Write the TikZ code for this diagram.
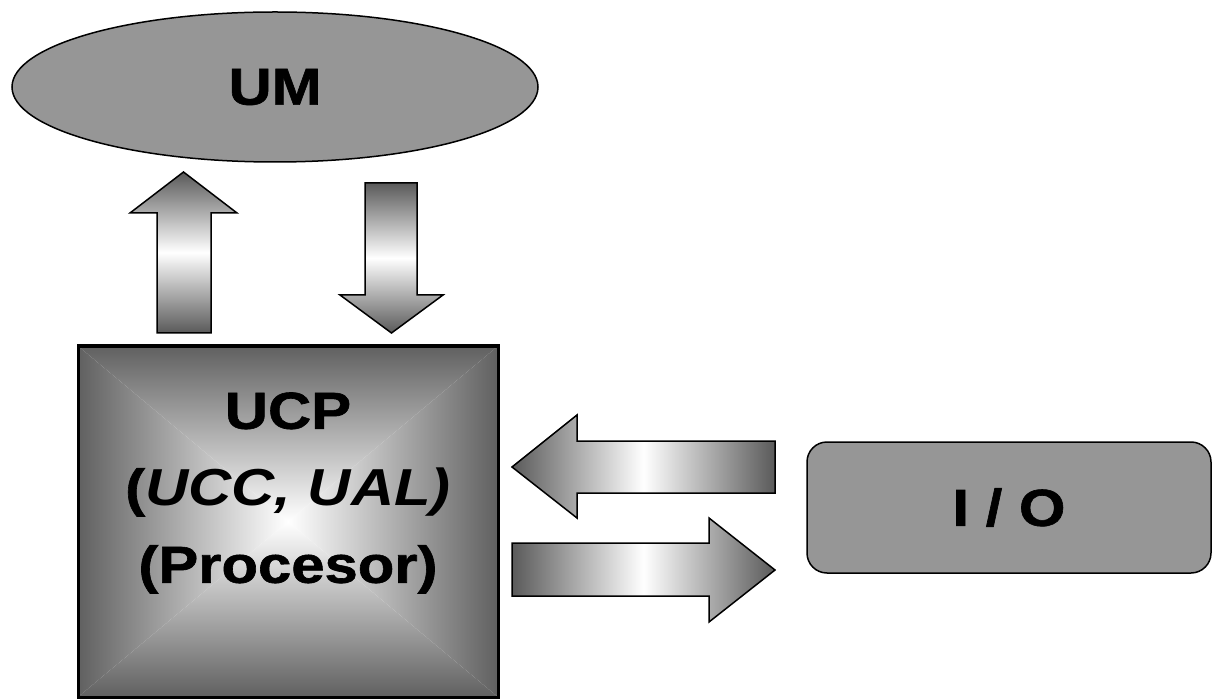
\documentclass[tikz,border=0pt]{standalone}
\usepackage{fontspec}
\newfontfamily\lab{Liberation Sans}[FakeStretch=1.15, BoldFeatures={FakeBold=1.2}]
\usetikzlibrary{shapes.geometric}
\definecolor{umgray}{HTML}{969696}
\definecolor{arrdark}{HTML}{5A5A5A}
\definecolor{boxdark}{HTML}{606060}
\definecolor{boxmid}{HTML}{CDCDCD}
\tikzset{
  every node/.style={font=\lab\bfseries\fontsize{52}{77}\selectfont},
  unitbox/.style={draw=black, line width=1.5, fill=umgray, inner sep=0},
  harrow/.style={draw=black, line width=1.5, left color=arrdark, right color=arrdark, middle color=white},
  varrow/.style={draw=black, line width=1.5, top color=arrdark, bottom color=arrdark, middle color=white},
}
\begin{document}
\begin{tikzpicture}[x=1pt, y=-1pt]
\useasboundingbox (0,0) rectangle (1212,700);

% memory unit
\node[unitbox, ellipse, minimum width=526, minimum height=150] (um) at (275,87) {UM};

% processor, shaded as a pyramid from the rim to the middle
\node[draw=black, line width=3, minimum width=420, minimum height=351, inner sep=0,
  path picture={
    \coordinate (tl) at (path picture bounding box.north west);
    \coordinate (tr) at (path picture bounding box.north east);
    \coordinate (bl) at (path picture bounding box.south west);
    \coordinate (br) at (path picture bounding box.south east);
    \coordinate (cc) at (path picture bounding box.center);
    \begin{scope}
      \clip (tl) -- (tr) -- (cc) -- cycle;
      \shade[top color=boxdark, middle color=boxmid, bottom color=white] (tl) rectangle (cc -| tr);
    \end{scope}
    \begin{scope}
      \clip (bl) -- (br) -- (cc) -- cycle;
      \shade[top color=white, middle color=boxmid, bottom color=boxdark] (cc -| bl) rectangle (br);
    \end{scope}
    \begin{scope}
      \clip (tl) -- (bl) -- (cc) -- cycle;
      \shade[left color=boxdark, middle color=boxmid, right color=white] (tl) rectangle (cc |- bl);
    \end{scope}
    \begin{scope}
      \clip (tr) -- (br) -- (cc) -- cycle;
      \shade[left color=white, middle color=boxmid, right color=boxdark] (cc |- tr) rectangle (br);
    \end{scope}
  }] (ucp) at (288,521.5) {};
\node[align=center, inner sep=0] (ucptext) at (288,493) {UCP\\(\textit{UCC, UAL)}\\(Procesor)};

% input / output unit
\node[unitbox, rounded corners=20, minimum width=404, minimum height=131] (io) at (1009,507.5) {I / O};

% transfers between processor and memory
\path[varrow] (157,333) -- (157,213) -- (130,213) -- (183.5,172) -- (237,213) -- (211,213) -- (211,333) -- cycle;
\path[varrow] (365,183) -- (417,183) -- (417,295) -- (443,295) -- (391.5,333) -- (340,295) -- (365,295) -- cycle;

% transfers between processor and input / output
\path[harrow] (775,441) -- (577,441) -- (577,415) -- (512,467) -- (577,518) -- (577,493) -- (775,493) -- cycle;
\path[harrow] (512,543) -- (709,543) -- (709,518) -- (775,570) -- (709,622) -- (709,596) -- (512,596) -- cycle;
\end{tikzpicture}
\end{document}
